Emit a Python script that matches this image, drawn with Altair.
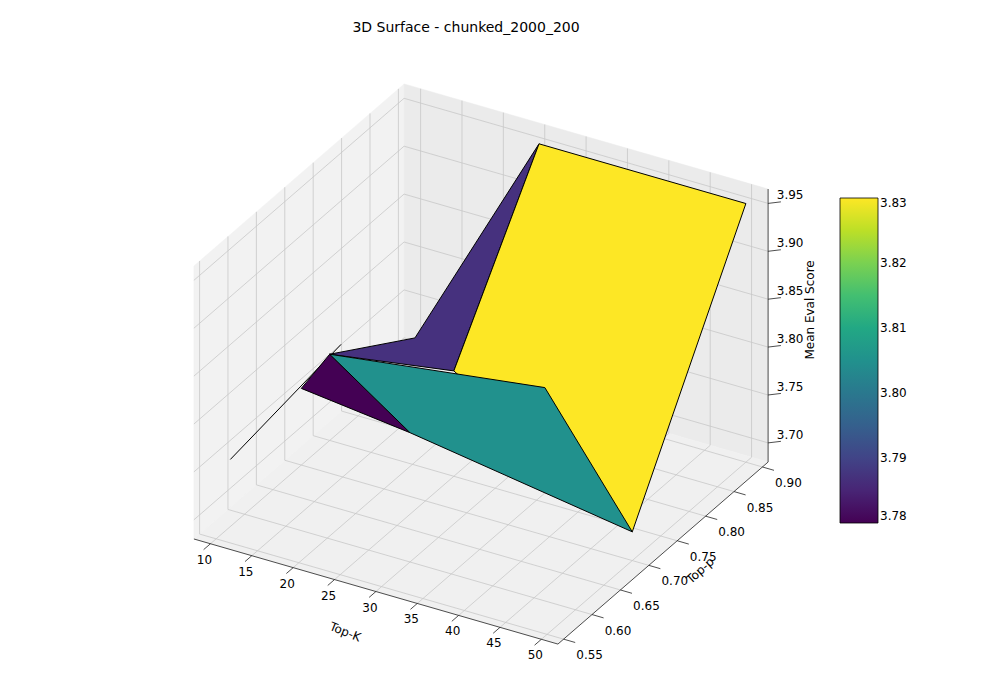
import numpy as np
import pandas as pd
import altair as alt

# ---- data ----
face_names = ["line", "purple", "dark", "yellow", "teal"]          # drawing order, back to front
face_vals = [3.78, 3.787, 3.78, 3.83, 3.805]
face_k = [[10, 10], [10, 10, 25, 25], [10, 10, 30], [25, 50, 50, 25], [10, 36, 50, 30]]
face_p = [[0.575, 0.77], [0.75, 0.9, 0.9, 0.75], [0.7, 0.75, 0.6], [0.9, 0.9, 0.7, 0.75], [0.75, 0.75, 0.7, 0.6]]
face_z = [[3.75, 3.77], [3.77, 3.71, 3.95, 3.79], [3.76, 3.77, 3.815], [3.95, 3.95, 3.71, 3.79], [3.77, 3.80, 3.71, 3.815]]

k_ticks = [10, 15, 20, 25, 30, 35, 40, 45, 50]
p_ticks = [0.55, 0.60, 0.65, 0.70, 0.75, 0.80, 0.85, 0.90]
z_ticks = [3.70, 3.75, 3.80, 3.85, 3.90, 3.95]
k_lim = (8, 52)
p_lim = (0.54, 0.91)
z_lim = (3.68, 3.965)

# ---- projection (azim=-60, elev=30, box aspect 4:4:3) ----
def proj(k, p, z):
    X = (np.asarray(k, float) - k_lim[0]) / (k_lim[1] - k_lim[0]) * 4 - 2
    Y = (np.asarray(p, float) - p_lim[0]) / (p_lim[1] - p_lim[0]) * 4 - 2
    Z = (np.asarray(z, float) - z_lim[0]) / (z_lim[1] - z_lim[0]) * 3 - 1.5
    return 0.866 * X + 0.5 * Y, -0.25 * X + 0.433 * Y + 0.866 * Z

k0, k1 = k_lim
p0, p1 = p_lim
z0, z1 = z_lim

xs = alt.Scale(domain=[-2.75, 2.75], nice=False, zero=False)
ys = alt.Scale(domain=[-2.75, 2.75], nice=False, zero=False)
X = alt.X("sx:Q", scale=xs, axis=None)
Y = alt.Y("sy:Q", scale=ys, axis=None)

# panes
panes = [
    ("#f2f2f2", [(k0, p0, z0), (k0, p1, z0), (k0, p1, z1), (k0, p0, z1)]),
    ("#ebebeb", [(k0, p1, z0), (k1, p1, z0), (k1, p1, z1), (k0, p1, z1)]),
    ("#f0f0f0", [(k0, p0, z0), (k1, p0, z0), (k1, p1, z0), (k0, p1, z0)]),
]
pane_layers = []
for col, pts in panes:
    rows = []
    for i, (k, p, z) in enumerate(pts):
        sx, sy = proj(k, p, z)
        rows.append(dict(ord=i, sx=float(sx), sy=float(sy)))
    pane_layers.append(
        alt.Chart(pd.DataFrame(rows)).mark_line(
            interpolate="linear-closed", fill=col, stroke=col, strokeWidth=0.5
        ).encode(X, Y, order="ord:Q")
    )

# grid lines and tick marks
seg_rows = []
segs = []
for k in k_ticks:
    segs.append(("g", [(k, p0, z0), (k, p1, z0), (k, p1, z1)]))
    segs.append(("t", [(k, p0, z0), (k, p0 - 0.012, z0)]))
for p in p_ticks:
    segs.append(("g", [(k1, p, z0), (k0, p, z0), (k0, p, z1)]))
    segs.append(("t", [(k1, p, z0), (k1 + 1.4, p, z0)]))
for z in z_ticks:
    segs.append(("g", [(k0, p0, z), (k0, p1, z), (k1, p1, z)]))
    segs.append(("t", [(k1, p1, z), (k1 + 1.0, p1 + 0.008, z)]))
for j, (kind, pts) in enumerate(segs):
    for i, (k, p, z) in enumerate(pts):
        sx, sy = proj(k, p, z)
        seg_rows.append(dict(gid=j, kind=kind, ord=i, sx=sx, sy=sy))
seg_df = pd.DataFrame(seg_rows)

edge_rows = []
for j, pts in enumerate([[(k0, p0, z0), (k1, p0, z0)], [(k1, p0, z0), (k1, p1, z0)], [(k1, p1, z0), (k1, p1, z1)]]):
    for i, (k, p, z) in enumerate(pts):
        sx, sy = proj(k, p, z)
        edge_rows.append(dict(gid=j, ord=i, sx=sx, sy=sy))
edge_df = pd.DataFrame(edge_rows)

face_rows = []
for name, v, ks, ps, zs in zip(face_names, face_vals, face_k, face_p, face_z):
    sx, sy = proj(ks, ps, zs)
    for i in range(len(ks)):
        face_rows.append(dict(face=name, ord=i, sx=sx[i], sy=sy[i], val=v))
face_df = pd.DataFrame(face_rows)

lab_rows = []
for k in k_ticks:
    sx, sy = proj(k, p0, z0)
    lab_rows.append(dict(sx=sx, sy=sy, txt=str(k), ax="k"))
for p in p_ticks:
    sx, sy = proj(k1, p, z0)
    lab_rows.append(dict(sx=sx, sy=sy, txt=f"{p:.2f}", ax="p"))
for z in z_ticks:
    sx, sy = proj(k1, p1, z)
    lab_rows.append(dict(sx=sx, sy=sy, txt=f"{z:.2f}", ax="z"))
lab_df = pd.DataFrame(lab_rows)

grid_layer = alt.Chart(seg_df).transform_filter("datum.kind == 'g'").mark_line(
    color="#c8c8c8", strokeWidth=0.8).encode(X, Y, detail="gid:N", order="ord:Q")
tick_layer = alt.Chart(seg_df).transform_filter("datum.kind == 't'").mark_line(
    color="#222222", strokeWidth=0.8).encode(X, Y, detail="gid:N", order="ord:Q")
edge_layer = alt.Chart(edge_df).mark_line(color="#222222", strokeWidth=0.8).encode(
    X, Y, detail="gid:N", order="ord:Q")

vir = alt.Scale(scheme="viridis", domain=[3.78, 3.83])
leg = alt.Legend(title=None, orient="none", legendX=648, legendY=123,
                 gradientLength=325, gradientThickness=38, format=".2f",
                 labelFontSize=12, labelColor="#000", tickCount=6, labelFont="DejaVu Sans",
                 gradientStrokeColor="#000", gradientStrokeWidth=0.8)
face_layers = []
for name in face_names:
    face_layers.append(
        alt.Chart(face_df).transform_filter(f"datum.face == '{name}'").mark_line(
            interpolate="linear-closed" if name != "line" else "linear",
            stroke="black", strokeWidth=1, strokeJoin="round").encode(
            X, Y, order="ord:Q", fill=alt.Fill("val:Q", scale=vir, legend=leg),
        )
    )

def labels(ax, dx, dy, align="center"):
    return alt.Chart(lab_df).transform_filter(f"datum.ax == '{ax}'").mark_text(
        dx=dx, dy=dy, fontSize=12, align=align, font="DejaVu Sans", color="#000").encode(X, Y, text="txt:N")

k_lab = labels("k", -6, 16)
p_lab = labels("p", 26, 16)
z_lab = labels("z", 22, -8)

# axis titles: anchor in data space, screen offset (ox, oy) in px
title_df = pd.DataFrame([
    dict(txt="Top-K", k=31, p=p0, z=z0, ang=22, ox=-39, oy=38),
    dict(txt="Top-p", k=k1, p=0.72, z=z0, ang=318, ox=40, oy=15),
    dict(txt="Mean Eval Score", k=k1, p=p1, z=3.82, ang=270, ox=42, oy=-18),
])
title_df["sx"], title_df["sy"] = proj(title_df.k, title_df.p, title_df.z)
axis_titles = []
for _, r in title_df.iterrows():
    t = np.radians(r.ang)
    dx = np.cos(t) * r.ox + np.sin(t) * r.oy
    dy = -np.sin(t) * r.ox + np.cos(t) * r.oy
    axis_titles.append(
        alt.Chart(title_df[title_df.txt == r.txt]).mark_text(
            angle=int(r.ang), dx=float(dx), dy=float(dy), fontSize=12, font="DejaVu Sans", color="#000"
        ).encode(X, Y, text="txt:N")
    )

chart = alt.layer(
    *pane_layers, grid_layer, edge_layer, tick_layer, *face_layers, k_lab, p_lab, z_lab, *axis_titles
).properties(
    width=578, height=578,
    title=alt.TitleParams("3D Surface - chunked_2000_200", fontSize=14, fontWeight="normal",
                          font="DejaVu Sans", offset=40, dx=-15, color="#000"),
    autosize=alt.AutoSizeParams(type="none"),
    padding={"left": 184, "top": 67, "right": 222, "bottom": 39},
).configure_view(stroke=None)

chart.save("out.html", embed_options={"renderer": "svg", "actions": False})
